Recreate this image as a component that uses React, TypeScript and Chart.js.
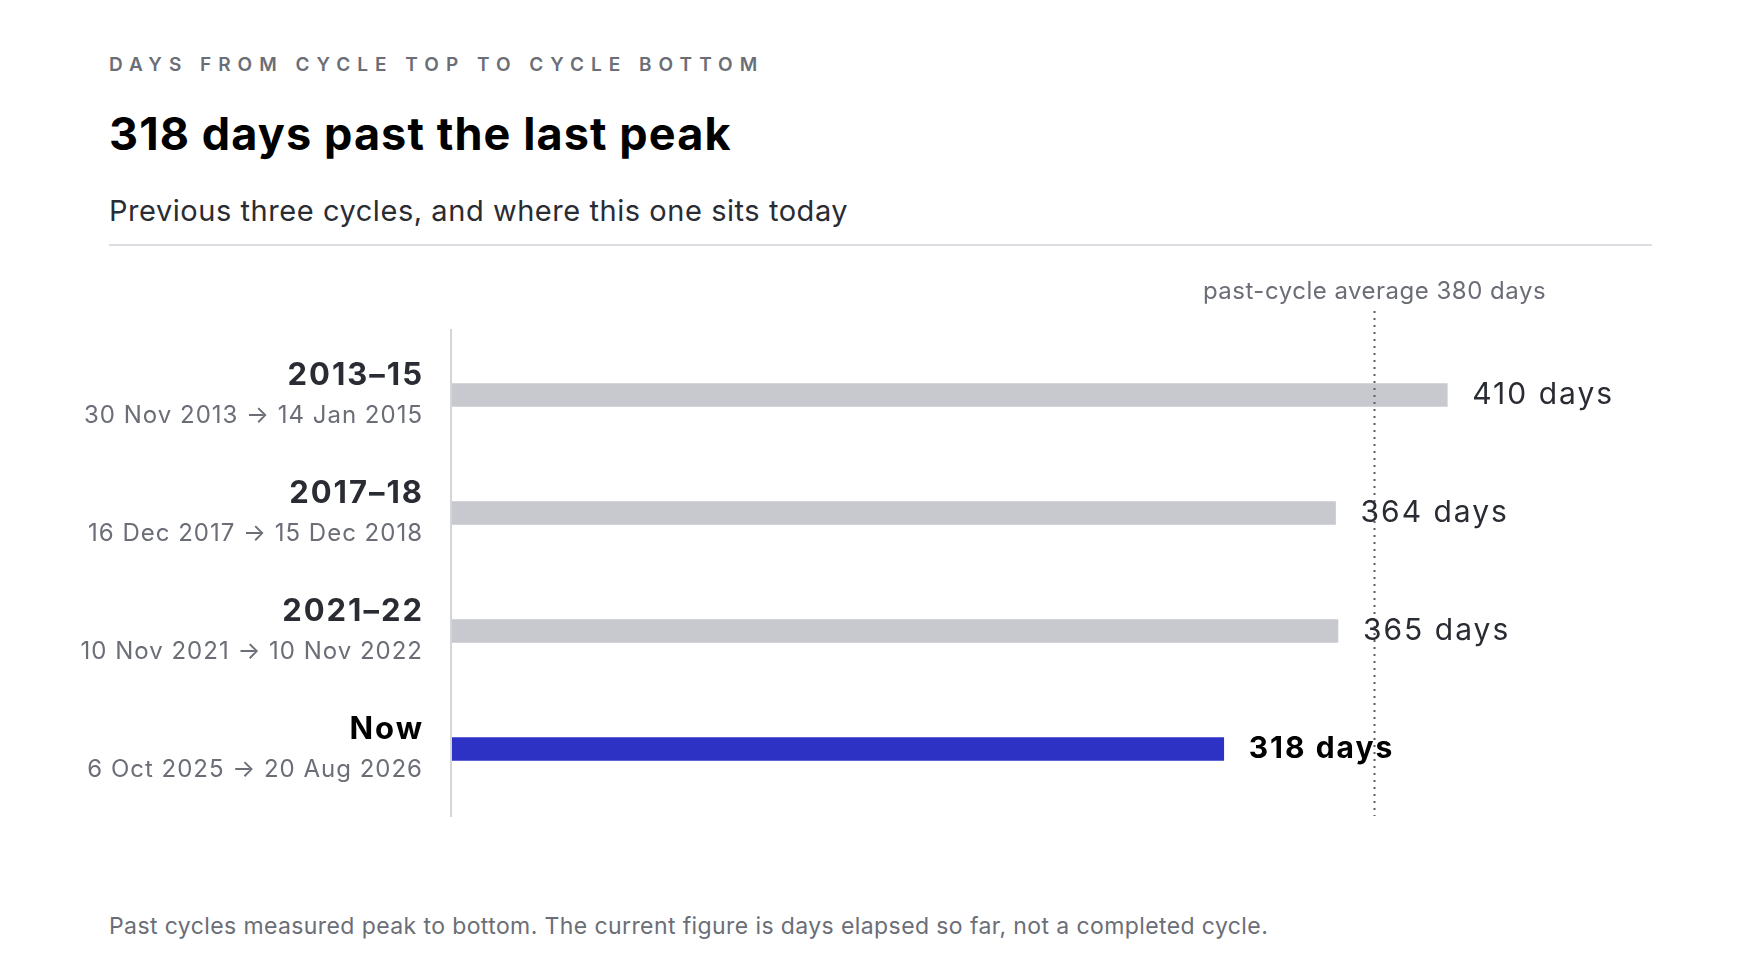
import React, { useEffect, useRef } from "react";
import { Chart, registerables } from "chart.js";

Chart.register(...registerables);

const cycleNames = ["2013–15", "2017–18", "2021–22", "Now"];
const cycleDates = [
  "30 Nov 2013 → 14 Jan 2015",
  "16 Dec 2017 → 15 Dec 2018",
  "10 Nov 2021 → 10 Nov 2022",
  "6 Oct 2025 → 20 Aug 2026",
];
const cycleDays = [410, 364, 365, 318];
const averageDays = 380;
const averageLabel = "past-cycle average 380 days";
const xMax = 500;

const FONT = "Inter, 'Noto Sans', sans-serif";
const GREY_BAR = "#c8c9ce";
const BLUE_BAR = "#2d32c4";

const overlayPlugin = {
  id: "overlay",
  afterDatasetsDraw(chart: any) {
    const { ctx, chartArea, scales } = chart;
    const x = scales.x;
    const y = scales.y;
    ctx.save();
    // left axis line
    ctx.strokeStyle = "#d4d5d9";
    ctx.lineWidth = 2;
    ctx.beginPath();
    ctx.moveTo(chartArea.left, chartArea.top - 7);
    ctx.lineTo(chartArea.left, chartArea.bottom + 9);
    ctx.stroke();

    // average dotted line
    const ax = Math.round(x.getPixelForValue(averageDays)) + 0.5;
    ctx.strokeStyle = "#5a5d66";
    ctx.lineWidth = 2;
    ctx.setLineDash([2, 5]);
    ctx.beginPath();
    ctx.moveTo(ax, chartArea.top - 25);
    ctx.lineTo(ax, chartArea.bottom + 8);
    ctx.stroke();
    ctx.setLineDash([]);

    ctx.fillStyle = "#6b6e76";
    ctx.font = `400 24px ${FONT}`;
    ctx.letterSpacing = "0.5px";
    ctx.textAlign = "center";
    ctx.textBaseline = "middle";
    ctx.fillText(averageLabel, ax, chartArea.top - 44);

    const meta = chart.getDatasetMeta(0);
    cycleDays.forEach((v, i) => {
      const cy = y.getPixelForValue(i);
      const isNow = i === cycleDays.length - 1;
      // category labels
      ctx.textAlign = "right";
      ctx.textBaseline = "middle";
      ctx.fillStyle = isNow ? "#000000" : "#2a2c33";
      ctx.font = `700 31px ${FONT}`;
      ctx.letterSpacing = "2px";
      ctx.fillText(cycleNames[i], chartArea.left - 27, cy - 19);
      ctx.fillStyle = "#6b6e76";
      ctx.font = `400 24px ${FONT}`;
      ctx.letterSpacing = "1px";
      ctx.fillText(cycleDates[i], chartArea.left - 28, cy + 21);
      // value labels
      const bx = meta.data[i].x;
      ctx.textAlign = "left";
      ctx.fillStyle = isNow ? "#000000" : "#2a2c33";
      ctx.font = `${isNow ? 700 : 400} 30px ${FONT}`;
      ctx.letterSpacing = "2px";
      ctx.fillText(`${v} days`, bx + 25, cy);
    });
    ctx.restore();
  },
};

function BarChart() {
  const ref = useRef<HTMLCanvasElement | null>(null);
  useEffect(() => {
    if (!ref.current) return;
    const chart = new Chart(ref.current, {
      type: "bar",
      data: {
        labels: cycleNames,
        datasets: [
          {
            data: cycleDays,
            backgroundColor: cycleDays.map((_, i) =>
              i === cycleDays.length - 1 ? BLUE_BAR : GREY_BAR
            ),
            borderWidth: 0,
            barThickness: 23,
          },
        ],
      },
      options: {
        indexAxis: "y",
        responsive: false,
        animation: false,
        devicePixelRatio: 1,
        layout: { padding: { left: 451, right: 94, top: 76, bottom: 52 } },
        plugins: {
          legend: { display: false },
          tooltip: { enabled: false },
        },
        scales: {
          x: { display: false, min: 0, max: xMax },
          y: { display: false },
        },
      },
      plugins: [overlayPlugin],
    });
    return () => chart.destroy();
  }, []);
  return (
    <canvas
      ref={ref}
      width={1760}
      height={600}
      style={{ position: "absolute", left: 0, top: 260, width: 1760, height: 600 }}
    />
  );
}

export default function App() {
  useEffect(() => {
    document.body.style.margin = "0";
  }, []);
  return (
    <div
      style={{
        position: "relative",
        width: 1760,
        height: 979,
        background: "#ffffff",
        fontFamily: FONT,
        overflow: "hidden",
      }}
    >
      <div
        style={{
          position: "absolute",
          left: 109,
          top: 55,
          fontSize: 19,
          lineHeight: "20px",
          fontWeight: 600,
          letterSpacing: "7px",
          color: "#6b6e76",
          whiteSpace: "nowrap",
        }}
      >
        DAYS FROM CYCLE TOP TO CYCLE BOTTOM
      </div>
      <div
        style={{
          position: "absolute",
          left: 109,
          top: 111,
          fontSize: 45,
          lineHeight: "45px",
          fontWeight: 700,
          letterSpacing: "1.1px",
          color: "#000000",
          whiteSpace: "nowrap",
        }}
      >
        318 days past the last peak
      </div>
      <div
        style={{
          position: "absolute",
          left: 109,
          top: 196,
          fontSize: 29,
          lineHeight: "29px",
          fontWeight: 400,
          letterSpacing: "0.55px",
          color: "#2a2c33",
          whiteSpace: "nowrap",
        }}
      >
        Previous three cycles, and where this one sits today
      </div>
      <div
        style={{
          position: "absolute",
          left: 109,
          top: 244,
          width: 1543,
          height: 2,
          background: "#dcdde0",
        }}
      />
      <BarChart />
      <div
        style={{
          position: "absolute",
          left: 109,
          top: 915,
          fontSize: 23,
          lineHeight: "23px",
          letterSpacing: "0.4px",
          color: "#6b6e76",
          whiteSpace: "nowrap",
        }}
      >
        Past cycles measured peak to bottom. The current figure is days elapsed so far, not a completed cycle.
      </div>
    </div>
  );
}
